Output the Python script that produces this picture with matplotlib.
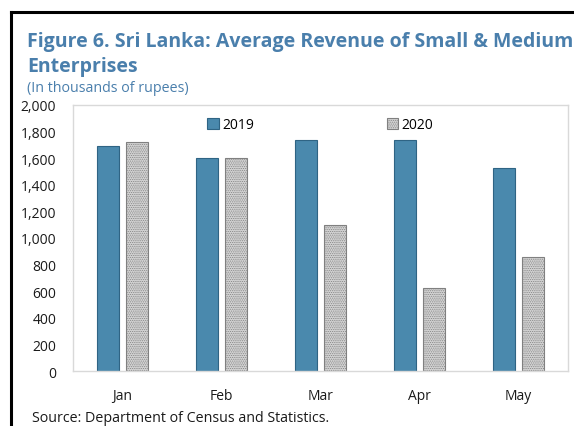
import matplotlib
matplotlib.use("Agg")
import matplotlib.pyplot as plt
import numpy as np
from matplotlib.lines import Line2D
from matplotlib.ticker import FuncFormatter

plt.rcParams['font.family'] = ['Open Sans', 'DejaVu Sans']
plt.rcParams['hatch.linewidth'] = 0.5

# average revenue, thousands of rupees
months = ["Jan", "Feb", "Mar", "Apr", "May"]
rev_2019 = [1690, 1600, 1740, 1735, 1525]
rev_2020 = [1720, 1600, 1100, 625, 860]

blue = '#4a89ad'
title_col = '#4a7fac'

fig = plt.figure(figsize=(5.74, 4.27), dpi=100)
ax = fig.add_axes([0.1272, 0.1288, 0.8623, 0.623])

x = np.arange(len(months))
w = 0.225
ax.bar(x - 0.145, rev_2019, w, color=blue, edgecolor='#2f6484', linewidth=0.8, label="2019")
ax.bar(x + 0.145, rev_2020, w, color='#d4d4d4', edgecolor='#808080', linewidth=0.8,
       hatch='.........', label="2020")

ax.set_xlim(-0.5, len(months) - 0.5)
ax.set_ylim(0, 2000)
ax.set_yticks(np.arange(0, 2001, 200))
ax.yaxis.set_major_formatter(FuncFormatter(lambda v, p: f"{int(v):,}"))
ax.set_xticks(x)
ax.set_xticklabels(months)
ax.tick_params(axis='both', length=0, labelsize=10, colors='#1a1a1a')
ax.tick_params(axis='y', pad=12)
ax.tick_params(axis='x', pad=12)
for s in ax.spines.values():
    s.set_color('#d9d9d9')
    s.set_linewidth(1.0)

ax.legend(loc='upper center', bbox_to_anchor=(0.5, 1.0), ncol=2, frameon=False,
          fontsize=10, handlelength=0.8, handleheight=0.8, handletextpad=0.3,
          columnspacing=9.5)

fig.text(0.047, 1 - 47 / 427, "Figure 6. Sri Lanka: Average Revenue of Small & Medium",
         fontsize=14, fontweight='bold', color=title_col, va='baseline')
fig.text(0.047, 1 - 72 / 427, "Enterprises",
         fontsize=14, fontweight='bold', color=title_col, va='baseline')
fig.text(0.047, 1 - 89 / 427, "(In thousands of rupees)",
         fontsize=10.3, color=title_col, va='center')
fig.text(0.056, 1 - 419 / 427, "Source: Department of Census and Statistics.",
         fontsize=10.3, color='#1a1a1a', va='center')

# outer frame (left and top edges)
fig.add_artist(Line2D([11 / 574, 11 / 574], [0, 1 - 12.5 / 427], transform=fig.transFigure,
                      color='black', linewidth=2.2))
fig.add_artist(Line2D([11 / 574, 1], [1 - 12.5 / 427, 1 - 12.5 / 427], transform=fig.transFigure,
                      color='black', linewidth=2.2))

fig.savefig("out.png", dpi=100)
